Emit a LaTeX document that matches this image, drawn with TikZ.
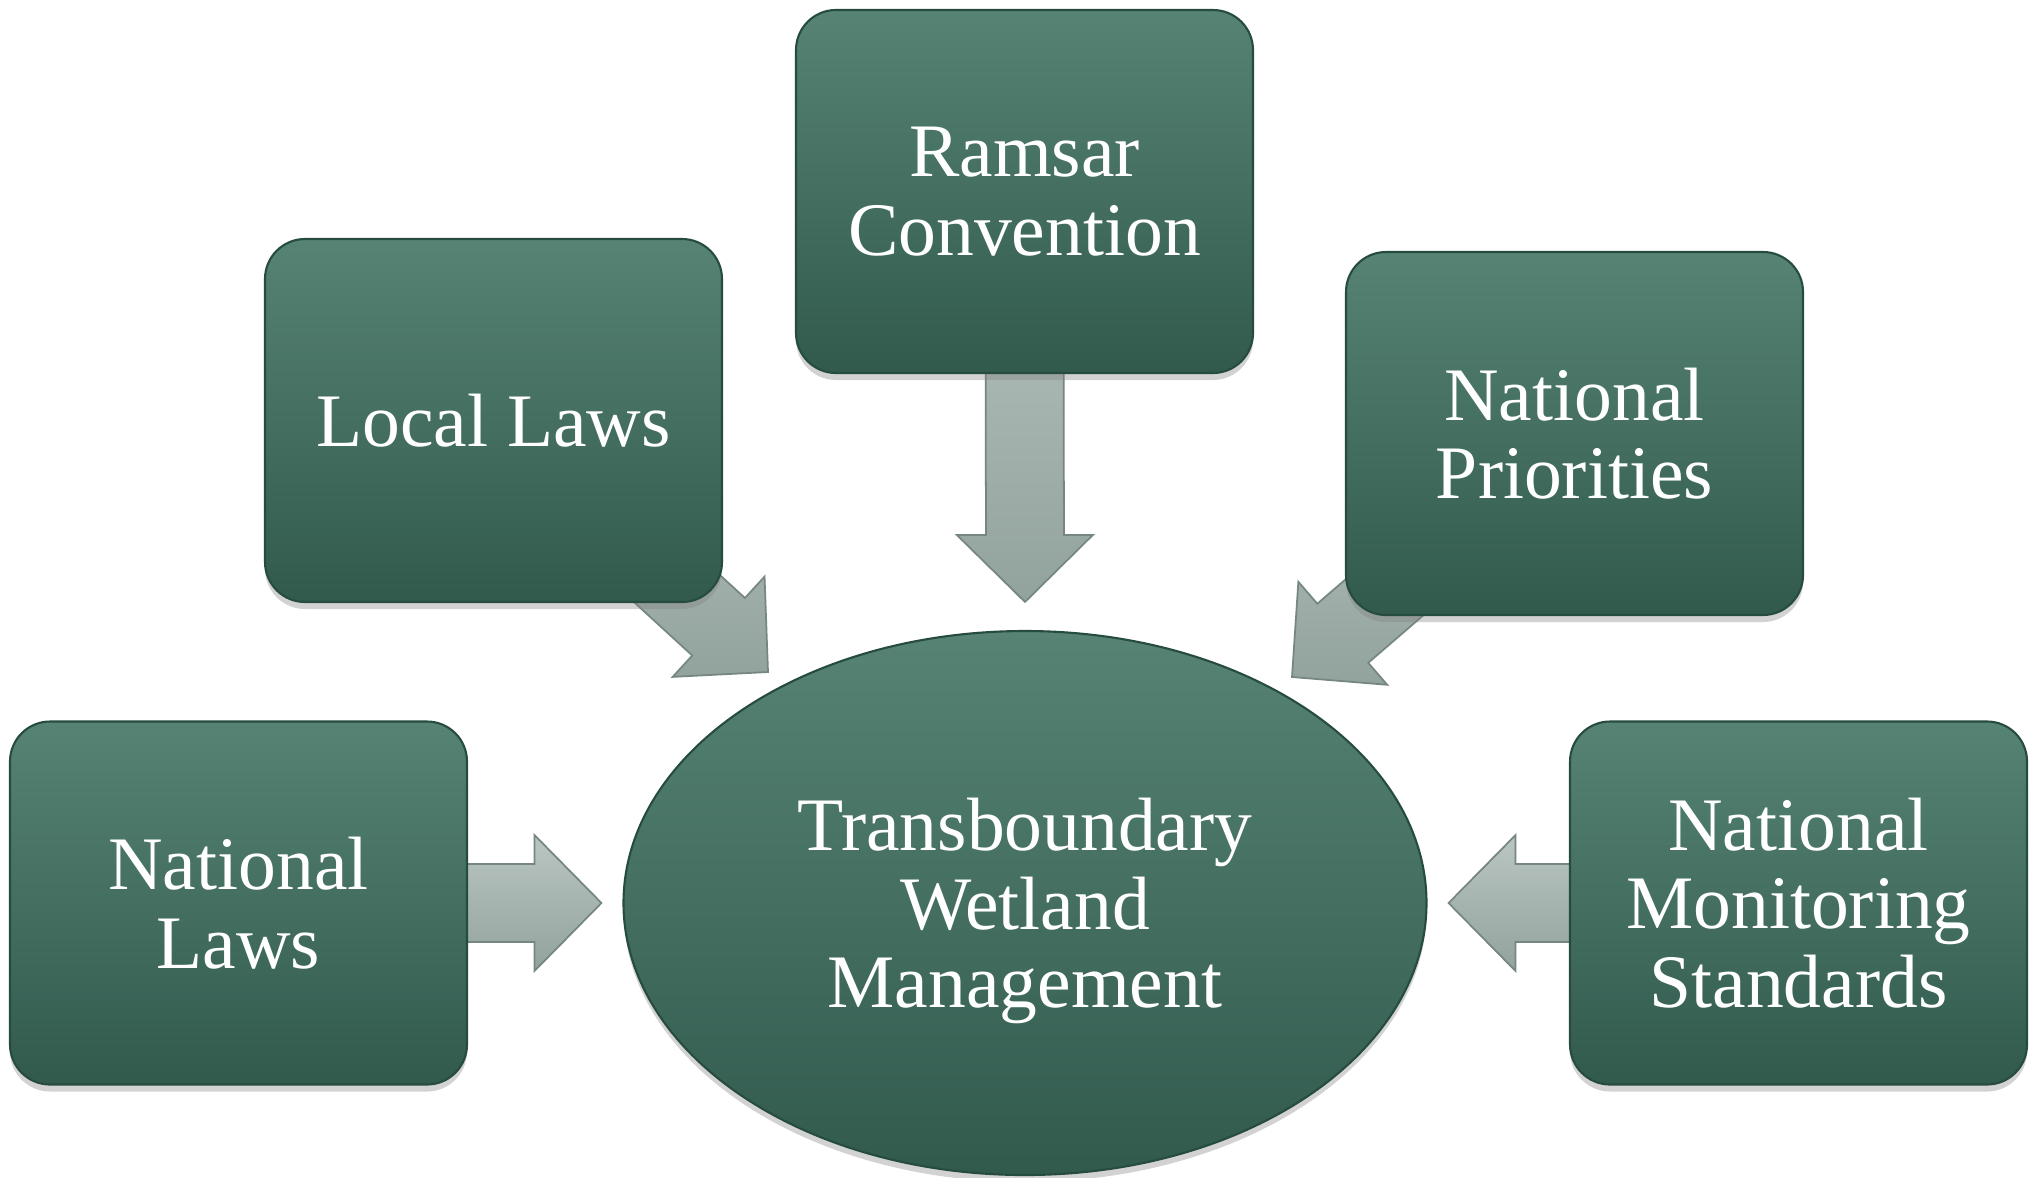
\documentclass[tikz,border=0pt]{standalone}
\usepackage{fontspec}
\setmainfont{Liberation Serif}
\usetikzlibrary{calc,shapes.geometric,shadows}
\pgfdeclarelayer{background}
\pgfsetlayers{background,main}

\definecolor{boxtop}{RGB}{86,131,116}
\definecolor{boxbottom}{RGB}{49,90,77}
\definecolor{boxedge}{RGB}{38,76,63}
\definecolor{arrowtop}{RGB}{186,198,194}
\definecolor{arrowbottom}{RGB}{146,162,156}
\definecolor{arrowedge}{RGB}{118,134,128}

\tikzset{
  source/.style={rectangle, rounded corners=0.4cm, minimum width=4.57cm,
    minimum height=3.63cm, top color=boxtop, bottom color=boxbottom,
    draw=boxedge, line width=0.6pt, text=white, align=center,
    font=\fontsize{21.5}{22.3}\selectfont,
    drop shadow={opacity=0.35, shadow xshift=0cm, shadow yshift=-0.07cm}},
  goal/.style={source, ellipse, rounded corners=0cm, minimum width=8.03cm,
    minimum height=5.44cm, inner sep=0pt},
  flow/.style={top color=arrowtop, bottom color=arrowbottom,
    draw=arrowedge, line width=0.5pt}
}

% block arrow: #1 name, #2 from, #3 tip
\newcommand{\flowarrow}[3]{
  \coordinate (#1base) at ($(#3)!0.67cm!(#2)$);
  \draw[flow] ($(#2)!0.39cm!90:(#3)$) -- ($(#1base)!0.39cm!90:(#3)$)
    -- ($(#1base)!0.68cm!90:(#3)$) -- (#3)
    -- ($(#1base)!0.68cm!-90:(#3)$) -- ($(#1base)!0.39cm!-90:(#3)$)
    -- ($(#2)!0.39cm!-90:(#3)$) -- cycle;
}

\begin{document}
\begin{tikzpicture}
\useasboundingbox (0,0) rectangle (20.30,-11.77);

\node[source] (ramsar) at (10.245,-1.915) {Ramsar\\Convention};
\node[source] (local) at (4.935,-4.205) {Local Laws};
\node[source] (priorities) at (15.745,-4.335) {National\\Priorities};
\node[source] (natlaws) at (2.385,-9.03) {National\\Laws};
\node[source] (monitoring) at (17.985,-9.03) {National\\Monitoring\\Standards};
\node[goal] (wetland) at (10.25,-9.03)
  {Transboundary\\Wetland\\\raisebox{0pt}[\height][0pt]{Management}};

\coordinate (tipN) at ([yshift=0.28cm]wetland.north);
\coordinate (tipW) at ([xshift=-0.21cm]wetland.west);
\coordinate (tipE) at ([xshift=0.21cm]wetland.east);
\coordinate (tipNW) at ($(wetland.center)+(-2.57,2.31)$);
\coordinate (tipNE) at ($(wetland.center)+(2.67,2.26)$);

\begin{pgfonlayer}{background}
  \fill[white] (0,0) rectangle (20.30,-11.77);
  \flowarrow{n}{ramsar.center}{tipN}
  \flowarrow{w}{natlaws.center}{tipW}
  \flowarrow{e}{monitoring.center}{tipE}
  \flowarrow{nw}{local.center}{tipNW}
  \flowarrow{ne}{priorities.center}{tipNE}
\end{pgfonlayer}
\end{tikzpicture}
\end{document}
